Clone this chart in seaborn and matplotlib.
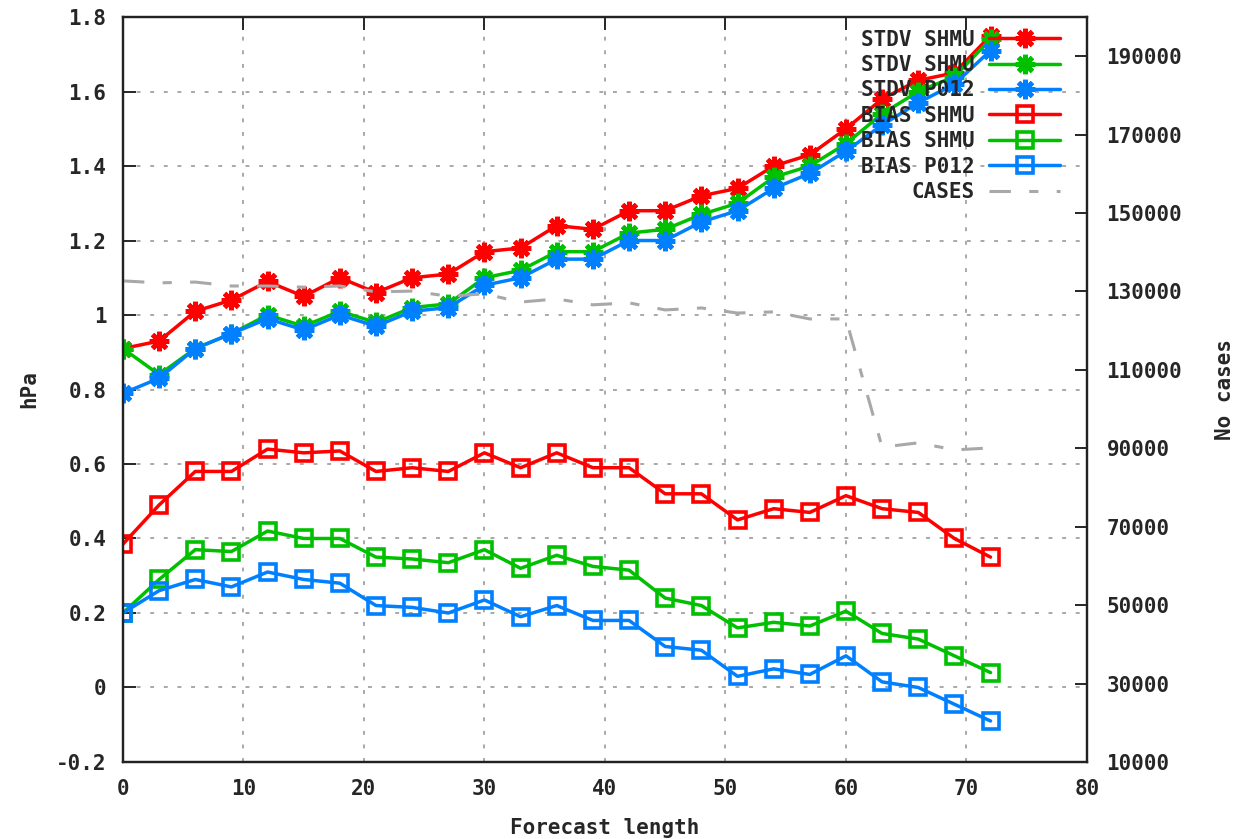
import numpy as np
import pandas as pd
import matplotlib
matplotlib.use('Agg')
import matplotlib.pyplot as plt
import seaborn as sns
from matplotlib.ticker import FuncFormatter, MultipleLocator

# forecast lengths (hours)
hours = list(range(0, 73, 3))

stdv_shmu_a = [0.91, 0.93, 1.01, 1.04, 1.09, 1.05, 1.10, 1.06, 1.10, 1.11, 1.17, 1.18, 1.24,
               1.23, 1.28, 1.28, 1.32, 1.34, 1.40, 1.43, 1.50, 1.58, 1.63, 1.65, 1.75]
stdv_shmu_b = [0.91, 0.84, 0.91, 0.95, 1.00, 0.97, 1.01, 0.98, 1.02, 1.03, 1.10, 1.12, 1.17,
               1.17, 1.22, 1.23, 1.27, 1.30, 1.37, 1.40, 1.46, 1.54, 1.60, 1.64, 1.74]
stdv_p012 = [0.79, 0.83, 0.91, 0.95, 0.99, 0.96, 1.00, 0.97, 1.01, 1.02, 1.08, 1.10, 1.15,
             1.15, 1.20, 1.20, 1.25, 1.28, 1.34, 1.38, 1.44, 1.51, 1.57, 1.62, 1.71]
bias_shmu_a = [0.385, 0.49, 0.58, 0.58, 0.64, 0.63, 0.635, 0.58, 0.59, 0.58, 0.63, 0.59, 0.63,
               0.59, 0.59, 0.52, 0.52, 0.45, 0.48, 0.47, 0.515, 0.48, 0.47, 0.40, 0.35]
bias_shmu_b = [0.20, 0.29, 0.37, 0.365, 0.42, 0.40, 0.40, 0.35, 0.345, 0.335, 0.37, 0.32, 0.355,
               0.325, 0.315, 0.24, 0.22, 0.16, 0.175, 0.165, 0.205, 0.145, 0.13, 0.085, 0.04]
bias_p012 = [0.20, 0.26, 0.29, 0.27, 0.31, 0.29, 0.28, 0.22, 0.215, 0.20, 0.235, 0.19, 0.22,
             0.18, 0.18, 0.11, 0.10, 0.03, 0.05, 0.035, 0.085, 0.015, 0.0, -0.045, -0.09]
cases = [132700, 132200, 132400, 131400, 131400, 131100, 131400, 129900, 130100, 128800,
         129400, 127300, 128100, 126600, 127100, 125300, 125800, 124500, 124800, 123000,
         123000, 90300, 91400, 89600, 90100]

labels = ['STDV SHMU', 'STDV SHMU', 'STDV P012', 'BIAS SHMU', 'BIAS SHMU', 'BIAS P012']
RED, GREEN, BLUE = '#ff0000', '#00c000', '#0080ff'

sns.set_style('white')
plt.rcParams['font.family'] = ['DejaVu Sans Mono']
plt.rcParams['font.weight'] = 'bold'

fig = plt.figure(figsize=(12.37, 8.39), dpi=100)
ax = fig.add_axes([0.0994, 0.0918, 0.7793, 0.8879])
ax2 = ax.twinx()

star = (8, 2, 0)
series = [
    (stdv_shmu_a, RED, star), (stdv_shmu_b, GREEN, star), (stdv_p012, BLUE, star),
    (bias_shmu_a, RED, 's'), (bias_shmu_b, GREEN, 's'), (bias_p012, BLUE, 's'),
]
for (vals, col, mk), lab in zip(series, labels):
    if mk == 's':
        sns.lineplot(x=hours, y=vals, ax=ax, color=col, linewidth=2.5, label=lab,
                     marker='s', markersize=12, markerfacecolor='none',
                     markeredgecolor=col, markeredgewidth=2.6)
    else:
        sns.lineplot(x=hours, y=vals, ax=ax, color=col, linewidth=2.5, label=lab,
                     marker=star, markersize=14, markeredgecolor=col, markeredgewidth=3.5)

sns.lineplot(x=hours, y=cases, ax=ax2, color='#a8a8a8', linewidth=2.2,
             dashes=False, label='CASES')
ax2.lines[0].set_dashes([7, 6, 3, 6])

ax.set_xlim(0, 80)
ax.set_ylim(-0.2, 1.8)
ax2.set_ylim(10000, 200000)
ax.xaxis.set_major_locator(MultipleLocator(10))
ax.yaxis.set_major_locator(MultipleLocator(0.2))
ax2.set_yticks(np.arange(10000, 200001, 20000))
ax.yaxis.set_major_formatter(FuncFormatter(lambda v, p: '%g' % round(v, 2)))
ax2.yaxis.set_major_formatter(FuncFormatter(lambda v, p: '%d' % v))

ax.grid(True, color='#a8a8a8', linestyle=(0, (2, 5)), linewidth=1.4)
for s in list(ax.spines.values()) + list(ax2.spines.values()):
    s.set_color('#222222')
    s.set_linewidth(1.6)
ax.tick_params(axis='both', direction='in', length=9, width=1.4, labelsize=15, pad=12,
               top=True, right=False)
ax2.tick_params(axis='y', direction='in', length=9, width=1.4, labelsize=15, pad=14)

ax.set_xlabel('Forecast length', fontsize=15, fontweight='bold', labelpad=14)
ax.set_ylabel('hPa', fontsize=15, fontweight='bold', labelpad=12)
ax2.set_ylabel('No cases', fontsize=15, fontweight='bold', labelpad=24)

h1, l1 = ax.get_legend_handles_labels()
h2, l2 = ax2.get_legend_handles_labels()
ax.get_legend().remove()
leg = ax2.legend(h1 + h2, l1 + l2, loc='upper right', frameon=False, markerfirst=False,
                 fontsize=15, handlelength=3.4, labelspacing=0.26, borderaxespad=0.2,
                 handletextpad=0.7, bbox_to_anchor=(0.985, 1.0))
for t in leg.get_texts():
    t.set_ha('right')

plt.savefig('out.png', dpi=100)
plt.close()
